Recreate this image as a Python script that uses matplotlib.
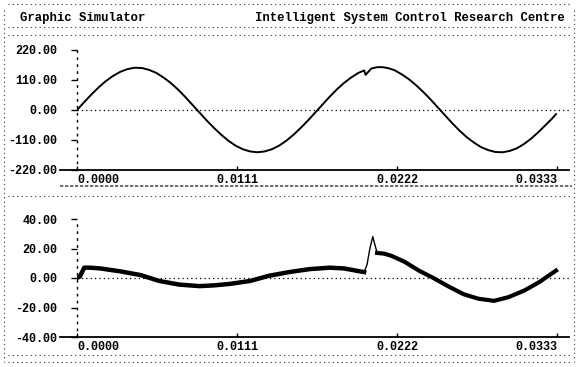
#!/usr/bin/env python3
"""Graphic Simulator screen: supply voltage and line current over two cycles."""

import matplotlib
matplotlib.use("Agg")
import matplotlib.pyplot as plt
from matplotlib.lines import Line2D

# voltage trace (s, V)
volt_t = [0.0000, 0.0005, 0.0010, 0.0015, 0.0020, 0.0025, 0.0030, 0.0035,
          0.0040, 0.0045, 0.0050, 0.0055, 0.0060, 0.0065, 0.0070, 0.0075,
          0.0080, 0.0085, 0.0090, 0.0095, 0.0100, 0.0105, 0.0110, 0.0115,
          0.0120, 0.0125, 0.0130, 0.0135, 0.0140, 0.0145, 0.0150, 0.0155,
          0.0160, 0.0165, 0.0170, 0.0175, 0.0180, 0.0185, 0.0190, 0.0195,
          0.0199, 0.0200, 0.0204, 0.0208, 0.0212, 0.0216, 0.0220, 0.0225,
          0.0230, 0.0235, 0.0240, 0.0245, 0.0250, 0.0255, 0.0260, 0.0265,
          0.0270, 0.0275, 0.0280, 0.0285, 0.0290, 0.0295, 0.0300, 0.0305,
          0.0310, 0.0315, 0.0320, 0.0325, 0.0329, 0.0332]
volt_v = [0, 29, 57, 83, 106, 125, 140, 150,
          155, 154, 147, 136, 119, 99, 75, 48,
          19, -10, -39, -66, -91, -113, -131, -144,
          -152, -155, -152, -144, -131, -113, -91, -66,
          -39, -10, 19, 48, 75, 99, 119, 136,
          145, 129, 152, 157, 157, 153, 146, 131,
          113, 91, 66, 39, 10, -19, -48, -75,
          -99, -119, -136, -147, -154, -155, -150, -140,
          -124, -104, -80, -54, -33, -15]

# current trace (s, A)
curr_t = [0.0000, 0.0002, 0.0005, 0.0009, 0.0016, 0.0030, 0.0044, 0.0057,
          0.0071, 0.0085, 0.0095, 0.0106, 0.0120, 0.0133, 0.0147, 0.0161,
          0.0175, 0.0185, 0.0199, 0.0201, 0.0203, 0.0205, 0.0208, 0.0213,
          0.0218, 0.0227, 0.0237, 0.0247, 0.0258, 0.0268, 0.0278, 0.0289,
          0.0299, 0.0310, 0.0320, 0.0332]
curr_i = [0, 1, 7, 7, 6.5, 4.5, 2, -2,
          -4.5, -5.5, -5, -4, -2, 1.5, 4, 6,
          7, 6.5, 4, 9, 20, 28, 17, 16.5,
          15, 11, 5, 0, -6, -11, -14, -15.5,
          -13, -8.5, -3, 5]

time_ticks = [0.0, 0.0111, 0.0222, 0.0333]
time_labels = ["0.0000", "0.0111", "0.0222", "0.0333"]
volt_ticks = [220, 110, 0, -110, -220]
volt_labels = ["220.00", "110.00", "0.00", "-110.00", "-220.00"]
curr_ticks = [40, 20, 0, -20, -40]
curr_labels = ["40.00", "20.00", "0.00", "-20.00", "-40.00"]

W, H = 582, 367
MONO = ["Liberation Mono", "DejaVu Sans Mono"]
plt.rcParams["font.family"] = MONO
plt.rcParams["font.weight"] = "bold"


def px(x0, y0, x1, y1):
    """Axes rectangle from pixel corners (top-left origin)."""
    return [x0 / W, 1 - y1 / H, (x1 - x0) / W, (y1 - y0) / H]


def style_axis(ax, yticks, ylabels, ylim):
    ax.set_xlim(0, 0.0341)
    ax.set_ylim(*ylim)
    for side in ("top", "right"):
        ax.spines[side].set_visible(False)
    ax.spines["left"].set_linestyle((0, (1, 4)))
    ax.spines["left"].set_linewidth(1.0)
    ax.spines["bottom"].set_linewidth(1.3)
    ax.set_yticks(yticks)
    ax.set_yticklabels(ylabels)
    ax.set_xticks(time_ticks)
    ax.set_xticklabels(time_labels)
    ax.tick_params(axis="y", direction="out", length=4, width=1, pad=10,
                   labelsize=8.5)
    ax.tick_params(axis="x", direction="in", length=3, width=1, pad=3,
                   labelsize=8.5)
    xl = ax.get_xticklabels()
    xl[0].set_horizontalalignment("left")
    xl[-1].set_horizontalalignment("right")
    ax.axhline(0, color="black", lw=0.9, ls=(0, (1, 2.5)))
    # bottom axis line runs a little past the y axis
    ax.add_line(Line2D([-0.035, 0], [0, 0], transform=ax.transAxes,
                       color="black", lw=1.3, clip_on=False))


fig = plt.figure(figsize=(W / 100, H / 100), dpi=100)

ax1 = fig.add_axes(px(77, 50, 569, 170))
ax1.plot(volt_t, volt_v, color="black", lw=1.4)
style_axis(ax1, volt_ticks, volt_labels, (-220, 220))

ax2 = fig.add_axes(px(77, 219, 569, 337))
ax2.plot(curr_t, curr_i, color="black", lw=1.0)
ax2.plot(curr_t[:19], curr_i[:19], color="black", lw=3.2)
ax2.plot(curr_t[22:], curr_i[22:], color="black", lw=3.0)
style_axis(ax2, curr_ticks, curr_labels, (-40, 40))

# header text
fig.text(20 / W, 1 - 18 / H, "Graphic Simulator", fontsize=8.8,
         fontweight="bold", va="center", ha="left")
fig.text(565 / W, 1 - 18 / H, "Intelligent System Control Research Centre",
         fontsize=8.8, fontweight="bold", va="center", ha="right")

# dotted screen borders / scan lines
dotted = dict(color="#333333", lw=0.8, ls=(0, (1, 3)))
for yy in (4, 27, 35, 196, 355, 362):
    fig.add_artist(Line2D([8 / W, 572 / W], [1 - yy / H, 1 - yy / H],
                          transform=fig.transFigure, **dotted))
fig.add_artist(Line2D([60 / W, 572 / W], [1 - 186 / H, 1 - 186 / H],
                      transform=fig.transFigure, color="#555555", lw=1.2,
                      ls=(0, (2, 1))))
for xx in (4, 574):
    fig.add_artist(Line2D([xx / W, xx / W], [1 - 10 / H, 1 - 362 / H],
                          transform=fig.transFigure, **dotted))

fig.savefig("out.png", dpi=100)
